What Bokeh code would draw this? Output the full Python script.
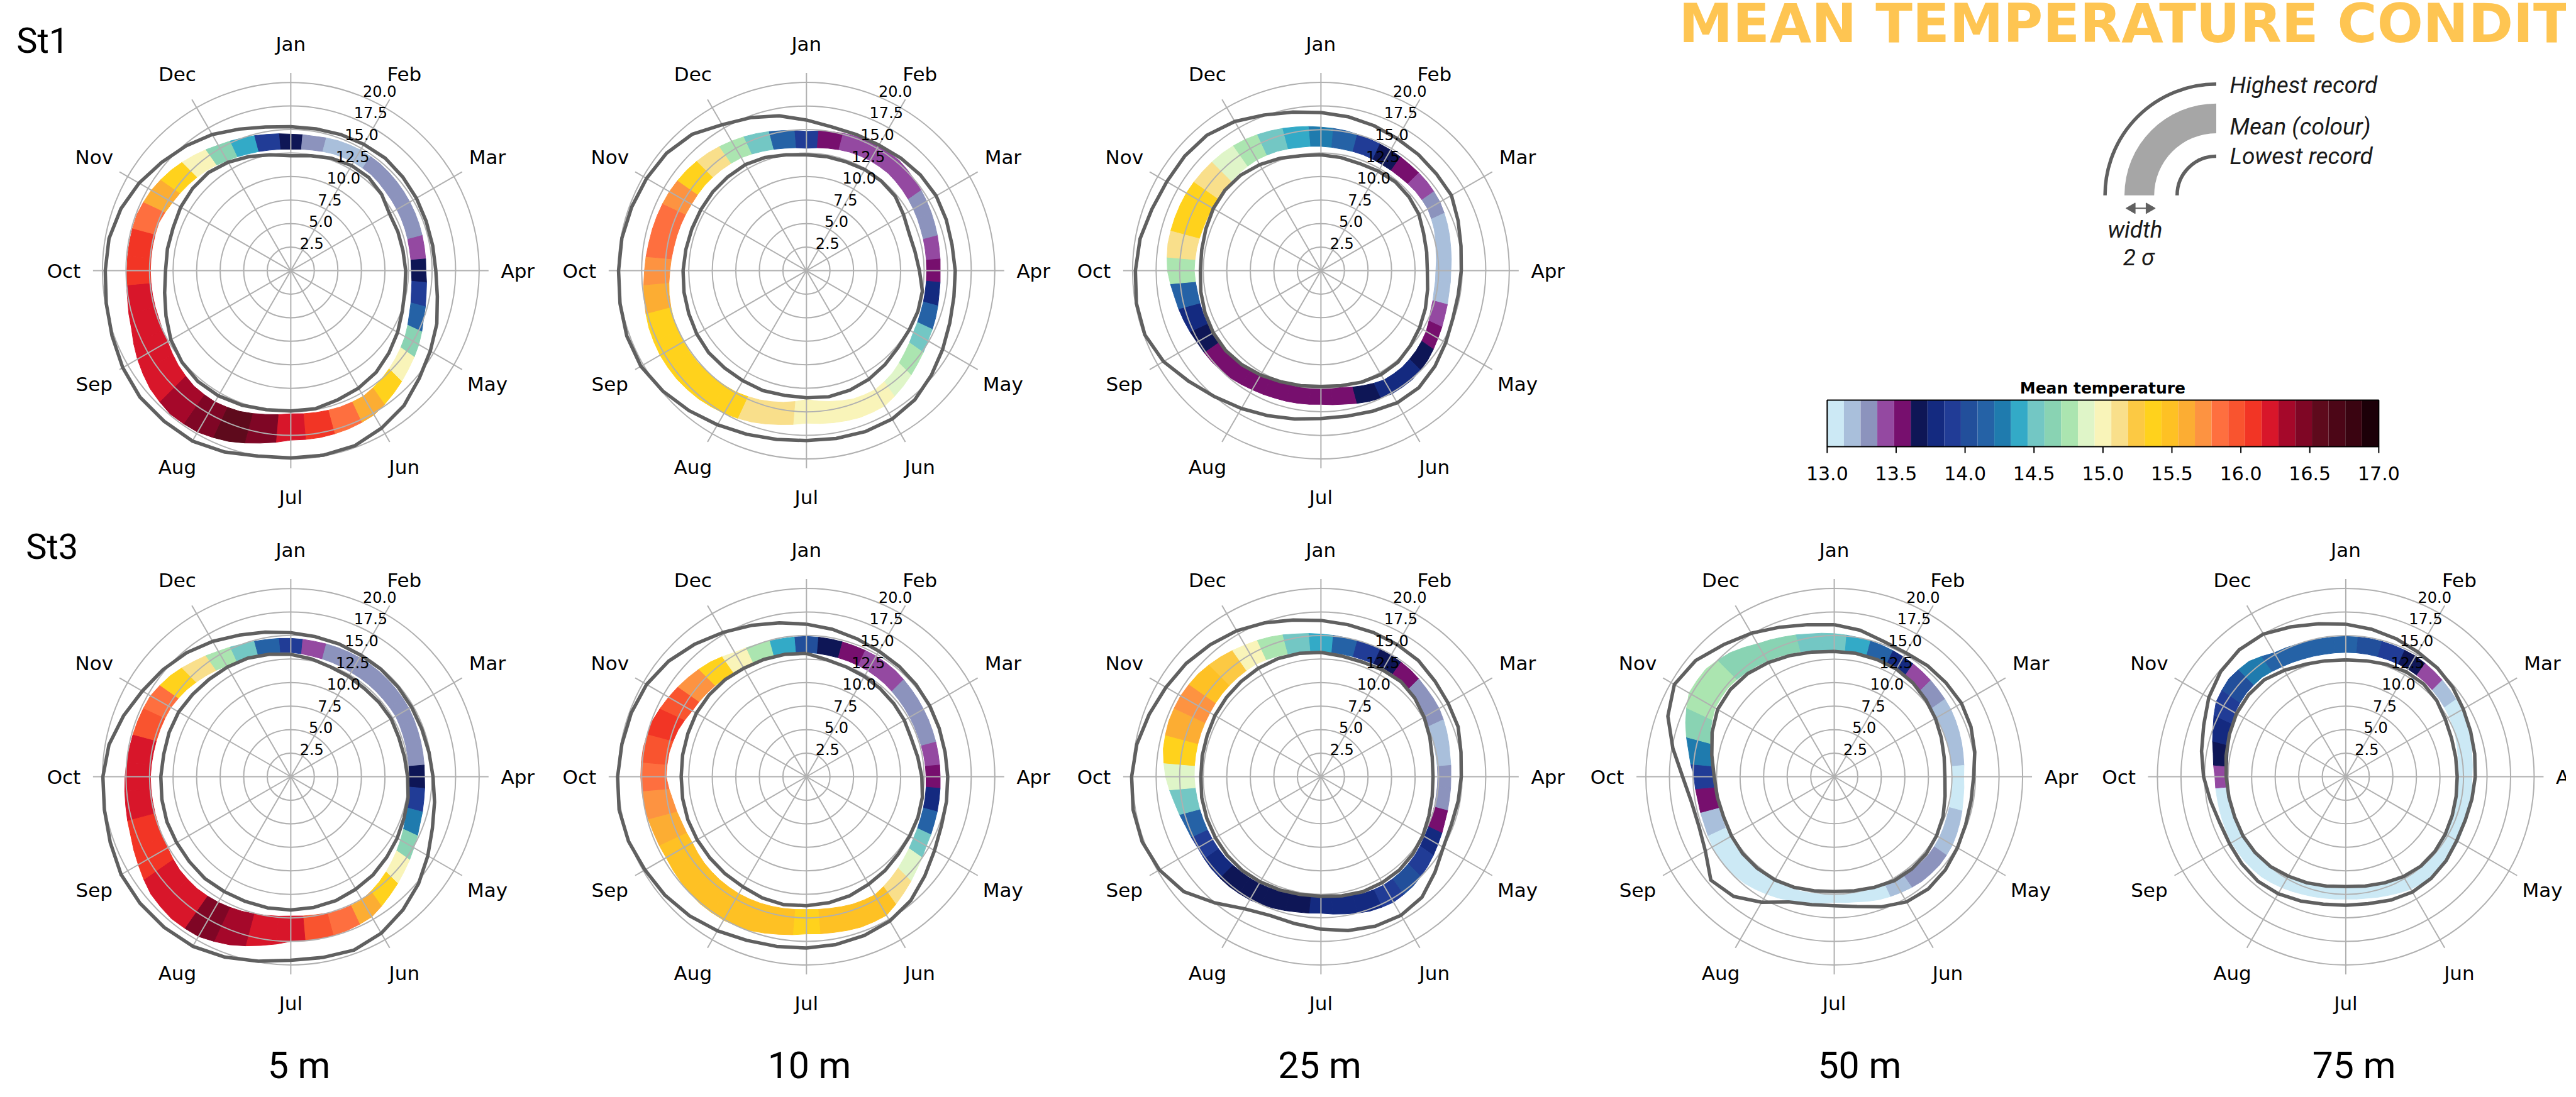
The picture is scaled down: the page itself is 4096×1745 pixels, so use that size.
import math
from bokeh.plotting import figure
from bokeh.models import Range1d
from bokeh.embed import file_html
from bokeh.resources import INLINE
from bokeh.core.properties import value

# ------------------------------------------------------------------ data
THETA_DEG = [0, 10, 20, 30, 40, 50, 60, 70, 80, 90, 100, 110, 120, 130, 140, 150, 160, 170,
             180, 190, 200, 210, 220, 230, 240, 250, 260, 270, 280, 290, 300, 310, 320, 330, 340, 350]
MONTHS = ["Jan", "Feb", "Mar", "Apr", "May", "Jun", "Jul", "Aug", "Sep", "Oct", "Nov", "Dec"]
R_TICKS = [2.5, 5.0, 7.5, 10.0, 12.5, 15.0, 17.5, 20.0]
R_MAX = 21.0
CBAR_TICKS = [13.0, 13.5, 14.0, 14.5, 15.0, 15.5, 16.0, 16.5, 17.0]
T_LOW, T_HIGH = 13.0, 17.0
PALETTE = ["#cce9f5", "#a9bfdb", "#8c93bd", "#9449a1", "#770f6e", "#0e1656", "#142a80",
           "#213c96", "#224f9b", "#2562a6", "#1f7bae", "#33aac7", "#73c7c4", "#89d3b3",
           "#abe5b0", "#dff5c8", "#f9f4b9", "#f9df8b", "#fcc943", "#ffd21c", "#fec124",
           "#fcad33", "#fd9341", "#fe6f3f", "#f9542f", "#f23525", "#d8162a", "#a5082a",
           "#7f0625", "#5e0a1c", "#4c0617", "#3a0411", "#1c0008"]
STATIONS = ["St1", "St3"]
DEPTHS = ["5 m", "10 m", "25 m", "50 m", "75 m"]
LEGEND_TEXT = ["Highest record", "Mean (colour)", "Lowest record"]
TITLE = "MEAN TEMPERATURE CONDITIONS"
CBAR_TITLE = "Mean temperature"

# ---- St1, 5 m
st1_5m_hi = [15.3, 15.3, 15.4, 15.5, 15.6, 15.5, 15.4, 15.3, 15.3, 15.4, 15.8, 16.5,
             17.1, 17.8, 18.7, 19.3, 19.8, 19.9, 19.9, 20.0, 20.5, 20.9, 20.9, 20.9,
             20.6, 20.2, 19.9, 19.7, 19.6, 19.2, 18.6, 17.9, 17.3, 16.7, 16.0, 15.5]
st1_5m_lo = [12.2, 12.4, 12.7, 12.9, 12.9, 12.6, 12.1, 12.1, 12.1, 12.2, 12.3, 12.6,
             13.1, 13.6, 14.1, 14.4, 14.6, 14.9, 14.9, 15.0, 15.2, 15.35, 15.35, 15.1,
             14.7, 14.1, 13.6, 13.3, 13.3, 13.3, 13.5, 13.6, 13.6, 13.3, 12.9, 12.5]
st1_5m_blo = [12.9, 13.0, 13.2, 13.3, 13.3, 13.1, 13.0, 12.9, 12.8, 12.8, 13.0, 13.4,
              14.0, 14.5, 15.0, 15.4, 15.4, 15.3, 15.2, 15.5, 15.9, 16.1, 16.0, 15.6,
              15.1, 14.9, 14.9, 14.9, 14.9, 14.9, 14.5, 14.2, 13.9, 13.5, 13.2, 13.0]
st1_5m_bhi = [14.5, 14.5, 14.7, 14.8, 14.8, 14.7, 14.6, 14.5, 14.4, 14.35, 14.6, 15.0,
              15.7, 16.3, 17.0, 17.7, 17.9, 18.0, 18.0, 18.6, 19.3, 19.8, 19.9, 19.5,
              18.8, 18.0, 17.6, 17.4, 17.4, 17.4, 17.1, 16.6, 16.0, 15.4, 15.0, 14.7]
st1_5m_col = [13.67, 13.30, 13.18, 13.18, 13.30, 13.30, 13.30, 13.30, 13.42, 13.67, 13.91, 14.15,
              14.64, 15.0, 15.36, 15.61, 15.85, 16.09, 16.21, 16.45, 16.58, 16.45, 16.33, 16.21,
              16.21, 16.21, 16.21, 16.09, 16.09, 15.85, 15.61, 15.36, 15.0, 14.64, 14.39, 13.91]

# ---- St1, 10 m
st1_10m_hi = [16.0, 15.5, 15.4, 15.4, 15.6, 15.8, 15.9, 15.8, 15.7, 15.8, 15.9, 16.2,
              16.7, 17.3, 17.9, 18.2, 18.2, 18.1, 18.05, 18.2, 18.5, 18.9, 19.4, 19.9,
              20.3, 20.3, 20.1, 19.95, 19.9, 19.75, 19.6, 19.4, 18.9, 17.9, 17.3, 16.7]
st1_10m_lo = [12.3, 12.3, 12.3, 12.4, 12.4, 12.3, 11.9, 11.6, 11.7, 12.0, 12.5, 12.6,
              12.6, 12.7, 13.0, 13.3, 13.5, 13.6, 13.5, 13.45, 13.55, 13.5, 13.5, 13.55,
              13.45, 13.3, 13.2, 13.1, 13.0, 12.95, 12.95, 13.0, 13.0, 13.0, 12.8, 12.5]
st1_10m_blo = [13.0, 13.2, 13.4, 13.5, 13.5, 13.3, 13.1, 12.9, 12.8, 12.75, 12.8, 12.9,
               13.1, 13.6, 14.2, 14.6, 14.5, 14.1, 13.7, 14.2, 14.6, 14.9, 15.0, 15.1,
               15.1, 15.0, 14.8, 14.5, 14.3, 14.2, 14.1, 14.1, 14.0, 13.85, 13.5, 13.2]
st1_10m_bhi = [14.8, 15.0, 15.2, 15.3, 15.3, 15.0, 14.75, 14.5, 14.3, 14.2, 14.3, 14.6,
               14.9, 15.4, 16.0, 16.6, 16.6, 16.4, 16.2, 16.6, 17.1, 17.5, 17.8, 17.95,
               17.95, 17.8, 17.5, 17.2, 17.0, 16.9, 16.8, 16.6, 16.3, 15.9, 15.5, 15.1]
st1_10m_col = [13.91, 13.55, 13.42, 13.42, 13.42, 13.42, 13.30, 13.30, 13.42, 13.55, 13.79, 14.15,
               14.52, 14.76, 14.88, 15.0, 15.0, 15.0, 15.0, 15.12, 15.12, 15.36, 15.36, 15.36,
               15.36, 15.36, 15.61, 15.73, 15.85, 15.85, 15.73, 15.36, 15.12, 14.76, 14.52, 14.15]

# ---- St1, 25 m
st1_25m_hi = [16.8, 16.6, 16.4, 16.2, 16.1, 16.0, 16.0, 15.5, 15.1, 14.9, 14.8, 14.9,
              15.3, 15.8, 16.2, 16.2, 15.9, 15.7, 15.7, 16.0, 16.4, 16.9, 17.5, 18.3,
              19.3, 19.9, 19.9, 19.7, 19.5, 19.1, 18.9, 18.9, 18.8, 18.3, 17.6, 17.1]
st1_25m_lo = [12.3, 12.2, 12.1, 12.2, 12.3, 12.2, 12.0, 11.6, 11.4, 11.3, 11.5, 11.8,
              12.1, 12.4, 12.7, 12.75, 12.6, 12.4, 12.3, 12.4, 12.55, 12.8, 13.05, 13.2,
              13.2, 13.1, 12.95, 12.8, 12.85, 13.0, 13.2, 13.3, 13.25, 13.0, 12.7, 12.4]
st1_25m_blo = [13.2, 13.1, 13.1, 13.0, 13.0, 13.1, 13.1, 12.8, 12.4, 12.2, 12.2, 12.4,
               12.9, 13.2, 13.4, 13.4, 13.0, 12.6, 12.4, 12.5, 12.6, 12.8, 13.1, 13.3,
               13.3, 13.3, 13.3, 13.45, 13.4, 13.3, 13.3, 13.4, 13.5, 13.6, 13.5, 13.3]
st1_25m_bhi = [15.25, 15.1, 14.9, 14.8, 14.7, 14.7, 14.6, 14.3, 14.0, 13.8, 13.8, 14.0,
               14.35, 14.8, 15.1, 15.1, 14.8, 14.4, 14.2, 14.3, 14.4, 14.6, 14.9, 15.1,
               15.2, 15.5, 15.8, 16.3, 16.5, 16.5, 16.5, 16.4, 16.3, 16.1, 15.8, 15.5]
st1_25m_col = [14.27, 14.15, 13.91, 13.67, 13.55, 13.42, 13.30, 13.18, 13.18, 13.18, 13.18, 13.42,
               13.55, 13.67, 13.79, 13.79, 13.67, 13.55, 13.55, 13.55, 13.55, 13.55, 13.55, 13.55,
               13.67, 13.79, 14.15, 14.76, 15.12, 15.36, 15.36, 15.12, 14.88, 14.76, 14.52, 14.39]

# ---- St3, 5 m
st3_5m_hi = [15.3, 15.1, 15.0, 14.9, 14.9, 14.85, 14.8, 14.8, 14.9, 15.1, 15.5, 16.0,
             16.8, 17.7, 18.5, 19.2, 19.6, 19.5, 19.5, 19.9, 20.4, 20.8, 20.9, 20.9,
             20.8, 20.4, 20.1, 19.95, 19.6, 18.9, 18.2, 17.7, 17.2, 16.6, 16.0, 15.6]
st3_5m_lo = [13.0, 12.7, 12.4, 12.3, 12.2, 12.25, 12.3, 12.2, 12.25, 12.4, 12.65, 12.8,
             13.05, 13.3, 13.6, 13.8, 14.0, 14.1, 14.15, 14.15, 14.1, 14.1, 14.15, 14.05,
             14.0, 14.0, 13.9, 13.8, 13.7, 13.75, 13.75, 13.6, 13.5, 13.45, 13.4, 13.2]
st3_5m_blo = [13.2, 13.0, 12.9, 12.8, 12.8, 12.8, 12.85, 12.7, 12.6, 12.55, 12.7, 12.95,
              13.45, 14.0, 14.6, 15.1, 15.1, 14.9, 14.8, 14.95, 15.2, 15.4, 15.5, 15.4,
              15.1, 14.95, 14.9, 14.9, 14.8, 14.75, 14.7, 14.4, 14.0, 13.6, 13.4, 13.3]
st3_5m_bhi = [14.7, 14.6, 14.6, 14.6, 14.6, 14.55, 14.5, 14.35, 14.25, 14.2, 14.35, 14.6,
              15.1, 15.7, 16.4, 17.2, 17.4, 17.5, 17.5, 18.2, 19.0, 19.6, 19.7, 19.4,
              18.7, 18.1, 17.8, 17.6, 17.4, 17.3, 17.2, 16.7, 16.0, 15.4, 15.0, 14.8]
st3_5m_col = [13.91, 13.42, 13.30, 13.30, 13.30, 13.30, 13.30, 13.30, 13.30, 13.67, 13.91, 14.27,
              14.64, 15.0, 15.36, 15.61, 15.85, 15.97, 16.21, 16.21, 16.33, 16.45, 16.21, 16.21,
              16.09, 16.09, 16.21, 16.21, 16.21, 15.97, 15.85, 15.36, 15.12, 14.76, 14.52, 14.15]

# ---- St3, 10 m
st3_10m_hi = [16.2, 15.9, 15.6, 15.4, 15.3, 15.2, 15.1, 15.0, 14.95, 15.0, 15.1, 15.25,
              15.7, 16.4, 17.2, 17.7, 17.95, 18.1, 18.2, 18.3, 18.5, 18.9, 19.3, 19.6,
              19.8, 20.1, 20.2, 20.05, 19.9, 19.8, 19.6, 19.1, 18.4, 17.7, 17.1, 16.6]
st3_10m_lo = [13.1, 12.6, 12.4, 12.3, 12.2, 12.1, 12.0, 11.85, 12.0, 12.25, 12.5, 12.6,
              12.65, 12.75, 13.0, 13.2, 13.45, 13.6, 13.7, 13.8, 13.7, 13.5, 13.45, 13.4,
              13.4, 13.4, 13.35, 13.3, 13.35, 13.4, 13.5, 13.5, 13.45, 13.3, 13.25, 13.2]
st3_10m_blo = [13.2, 13.1, 13.05, 13.0, 12.9, 12.75, 12.65, 12.6, 12.65, 12.7, 12.8, 12.9,
               13.1, 13.5, 14.0, 14.5, 14.4, 14.2, 14.1, 14.2, 14.3, 14.35, 14.3, 14.2,
               14.0, 14.1, 14.4, 14.9, 14.8, 14.5, 14.0, 13.8, 13.6, 13.45, 13.35, 13.25]
st3_10m_bhi = [14.9, 14.85, 14.8, 14.8, 14.7, 14.5, 14.35, 14.25, 14.2, 14.2, 14.3, 14.45,
               14.7, 15.3, 16.1, 17.0, 17.0, 16.8, 16.7, 17.0, 17.4, 17.6, 17.6, 17.4,
               17.2, 17.3, 17.5, 17.6, 17.6, 17.4, 16.9, 16.4, 15.9, 15.25, 15.0, 14.9]
st3_10m_col = [14.03, 13.67, 13.55, 13.42, 13.42, 13.30, 13.30, 13.30, 13.42, 13.55, 13.79, 14.15,
               14.52, 14.88, 15.12, 15.48, 15.48, 15.48, 15.36, 15.48, 15.48, 15.48, 15.48, 15.48,
               15.48, 15.61, 15.73, 15.85, 15.97, 16.09, 15.97, 15.73, 15.36, 15.0, 14.76, 14.39]

# ---- St3, 25 m
st3_25m_hi = [16.6, 16.4, 16.3, 16.2, 16.1, 15.8, 15.6, 15.5, 15.1, 14.9, 14.8, 14.75,
              15.0, 15.8, 16.7, 17.0, 16.9, 16.6, 16.2, 15.85, 15.7, 16.2, 17.5, 19.0,
              19.8, 20.2, 20.25, 20.1, 19.85, 19.4, 19.0, 18.7, 18.3, 17.9, 17.4, 16.9]
st3_25m_lo = [13.2, 13.0, 12.95, 13.1, 13.2, 13.0, 12.65, 12.3, 12.0, 11.9, 12.0, 12.2,
              12.5, 12.75, 12.95, 13.0, 13.0, 12.85, 12.7, 12.7, 12.8, 12.9, 13.0, 13.0,
              12.95, 12.9, 12.85, 12.75, 12.8, 12.85, 13.0, 13.1, 13.2, 13.3, 13.35, 13.3]
st3_25m_blo = [13.25, 13.2, 13.2, 13.3, 13.3, 13.0, 12.7, 12.5, 12.4, 12.4, 12.4, 12.5,
               12.7, 13.0, 13.2, 13.3, 13.2, 12.9, 12.75, 12.8, 12.95, 13.1, 13.2, 13.3,
               13.3, 13.3, 13.35, 13.45, 13.5, 13.55, 13.6, 13.7, 13.75, 13.8, 13.6, 13.4]
st3_25m_bhi = [15.15, 15.0, 14.95, 14.9, 14.8, 14.6, 14.5, 14.2, 13.9, 13.8, 13.85, 14.0,
               14.35, 14.8, 15.2, 15.4, 15.2, 14.8, 14.5, 14.6, 14.85, 15.1, 15.2, 15.2,
               15.1, 15.3, 15.8, 16.5, 17.0, 17.2, 17.2, 17.0, 16.6, 16.15, 15.8, 15.4]
st3_25m_col = [14.39, 14.15, 13.91, 13.67, 13.55, 13.30, 13.30, 13.18, 13.18, 13.30, 13.30, 13.55,
               13.79, 13.91, 14.03, 13.91, 13.79, 13.79, 13.79, 13.67, 13.67, 13.67, 13.67, 13.79,
               13.91, 14.15, 14.52, 14.88, 15.36, 15.61, 15.73, 15.48, 15.24, 15.0, 14.76, 14.52]

# ---- St3, 50 m
st3_50m_hi = [16.15, 15.8, 15.3, 15.2, 15.4, 15.5, 15.6, 15.45, 15.15, 14.8, 14.75, 14.85,
              15.1, 15.4, 15.55, 15.35, 14.7, 14.0, 13.7, 13.8, 14.15, 15.4, 16.6, 17.1,
              15.8, 15.3, 15.4, 16.1, 17.4, 18.8, 19.6, 19.2, 18.3, 17.6, 16.9, 16.4]
st3_50m_lo = [13.3, 13.3, 13.25, 13.2, 13.0, 12.7, 12.4, 12.1, 11.85, 11.75, 11.95, 12.3,
              12.55, 12.75, 12.8, 12.75, 12.5, 12.3, 12.2, 12.3, 12.5, 12.65, 12.7, 12.7,
              12.6, 12.5, 12.6, 12.75, 13.2, 13.8, 14.3, 14.4, 14.3, 14.0, 13.7, 13.45]
st3_50m_blo = [13.4, 13.3, 13.2, 13.05, 12.9, 12.75, 12.6, 12.5, 12.5, 12.55, 12.6, 12.7,
               12.9, 13.0, 12.9, 12.7, 12.6, 12.5, 12.5, 12.6, 12.7, 12.8, 12.85, 12.85,
               12.8, 12.7, 12.7, 12.75, 13.3, 14.0, 14.6, 14.7, 14.5, 14.2, 13.9, 13.6]
st3_50m_bhi = [15.2, 15.0, 14.85, 14.7, 14.55, 14.4, 14.3, 14.1, 13.9, 13.75, 13.9, 14.2,
               14.5, 14.6, 14.5, 14.2, 13.9, 13.5, 13.35, 13.6, 14.0, 14.4, 14.8, 15.0,
               14.9, 14.7, 14.7, 14.9, 15.7, 16.8, 17.8, 17.8, 17.2, 16.3, 15.8, 15.4]
st3_50m_col = [14.52, 14.39, 14.15, 13.79, 13.42, 13.30, 13.18, 13.18, 13.18, 13.06, 13.06, 13.18,
               13.18, 13.30, 13.30, 13.18, 13.06, 13.06, 13.06, 13.06, 13.06, 13.06, 13.06, 13.06,
               13.06, 13.18, 13.55, 13.91, 14.27, 14.64, 14.76, 14.76, 14.64, 14.64, 14.64, 14.52]

# ---- St3, 75 m
st3_75m_hi = [16.2, 15.9, 15.6, 15.3, 15.1, 14.8, 14.4, 14.1, 13.9, 13.75, 13.6, 13.5,
              13.6, 13.9, 14.1, 14.15, 13.95, 13.7, 13.65, 13.75, 14.05, 14.35, 14.5, 14.4,
              14.25, 14.25, 14.6, 15.1, 15.55, 16.05, 16.8, 17.35, 17.6, 17.5, 16.95, 16.5]
st3_75m_lo = [12.4, 12.5, 12.7, 12.85, 12.85, 12.6, 12.2, 11.95, 11.85, 11.83, 11.9, 12.03,
              12.2, 12.35, 12.4, 12.25, 12.0, 11.8, 11.66, 11.8, 12.0, 12.2, 12.45, 12.55,
              12.6, 12.55, 12.6, 12.7, 12.9, 13.15, 13.4, 13.5, 13.45, 13.05, 12.7, 12.5]
st3_75m_blo = [13.2, 13.2, 13.2, 13.2, 13.1, 12.9, 12.7, 12.4, 12.1, 12.0, 12.0, 12.1,
               12.3, 12.5, 12.55, 12.4, 12.1, 11.9, 11.85, 11.95, 12.1, 12.3, 12.5, 12.6,
               12.6, 12.6, 12.55, 12.5, 12.7, 13.1, 13.6, 13.8, 13.8, 13.5, 13.3, 13.2]
st3_75m_bhi = [14.9, 14.9, 14.85, 14.8, 14.6, 14.4, 14.2, 13.9, 13.6, 13.4, 13.4, 13.5,
               13.8, 13.9, 13.95, 13.8, 13.4, 13.1, 13.0, 13.1, 13.3, 13.6, 13.9, 14.0,
               14.0, 13.9, 13.85, 13.9, 14.3, 15.0, 15.9, 16.2, 16.0, 15.2, 15.0, 14.9]
st3_75m_col = [14.15, 14.03, 13.91, 13.67, 13.42, 13.18, 13.06, 13.06, 13.06, 13.06, 13.06, 13.06,
               13.06, 13.06, 13.06, 13.06, 13.06, 13.06, 13.06, 13.06, 13.06, 13.06, 13.06, 13.06,
               13.06, 13.06, 13.06, 13.42, 13.67, 13.79, 13.91, 14.03, 14.27, 14.15, 14.15, 14.15]

PANELS = [
    (0, 0, st1_5m_hi, st1_5m_lo, st1_5m_blo, st1_5m_bhi, st1_5m_col),
    (0, 1, st1_10m_hi, st1_10m_lo, st1_10m_blo, st1_10m_bhi, st1_10m_col),
    (0, 2, st1_25m_hi, st1_25m_lo, st1_25m_blo, st1_25m_bhi, st1_25m_col),
    (1, 0, st3_5m_hi, st3_5m_lo, st3_5m_blo, st3_5m_bhi, st3_5m_col),
    (1, 1, st3_10m_hi, st3_10m_lo, st3_10m_blo, st3_10m_bhi, st3_10m_col),
    (1, 2, st3_25m_hi, st3_25m_lo, st3_25m_blo, st3_25m_bhi, st3_25m_col),
    (1, 3, st3_50m_hi, st3_50m_lo, st3_50m_blo, st3_50m_bhi, st3_50m_col),
    (1, 4, st3_75m_hi, st3_75m_lo, st3_75m_blo, st3_75m_bhi, st3_75m_col),
]
for _pn in PANELS:
    for _arr in _pn[2:]:
        if len(_arr) != len(THETA_DEG):
            raise ValueError("bad length %d in panel %s" % (len(_arr), _pn[:2]))

# ------------------------------------------------------------------ layout
S = 0.936          # scale of the reference
PAD = 8            # page margin
W, H = 4080, 1729  # canvas size in px
K = 16.0 * S       # px per degree C on the radial axis


def U(X):
    return (S * X - PAD) / K


def V(Y):
    return (H - (S * Y - PAD)) / K


XMAX = W / K
COL_X = [502, 1378, 2252, 3124, 3993]
ROW_Y = [468, 1328]
DEPTH_X = [516, 1383, 2250, 3167, 4007]
LABEL_R = 24.1
GRID_C = "#b0b0b0"
REC_C = "#606060"


def tcolor(t):
    i = int(math.floor((t - T_LOW) / (T_HIGH - T_LOW) * len(PALETTE)))
    return PALETTE[max(0, min(len(PALETTE) - 1, i))]


def polar(cx, cy, r, deg):
    a = math.radians(deg)
    return cx + r * math.sin(a), cy + r * math.cos(a)


p = figure(width=W, height=H, x_range=Range1d(0, W / K), y_range=Range1d(0, H / K),
           toolbar_location=None, output_backend="svg", min_border=0,
           x_axis_type=None, y_axis_type=None)
p.grid.visible = False
p.outline_line_color = None
p.background_fill_color = "white"
p.border_fill_color = "white"

n = len(THETA_DEG)
step = THETA_DEG[1] - THETA_DEG[0]
mx, my, mt, moff = [], [], [], []
rx, ry, rt = [], [], []

for row, col, hi, lo, blo, bhi, tc in PANELS:
    cx, cy = U(COL_X[col]), V(ROW_Y[row])
    # mean +/- sigma band: one polar bar per sample, edges joined to neighbours
    bxs, bys, bcs = [], [], []
    for i in range(n):
        ip, inx = (i - 1) % n, (i + 1) % n
        t = THETA_DEG[i]
        angs = [t - step / 2, t, t + step / 2]
        ro = [(bhi[ip] + bhi[i]) / 2, bhi[i], (bhi[i] + bhi[inx]) / 2]
        ri = [(blo[ip] + blo[i]) / 2, blo[i], (blo[i] + blo[inx]) / 2]
        pts = [polar(cx, cy, r, a) for a, r in zip(angs, ro)] + \
              [polar(cx, cy, r, a) for a, r in zip(angs[::-1], ri[::-1])]
        bxs.append([q[0] for q in pts])
        bys.append([q[1] for q in pts])
        bcs.append(tcolor(tc[i]))
    p.patches(xs=bxs, ys=bys, fill_color=bcs, line_color=bcs, line_width=1)
    # grid
    p.circle(x=[cx] * len(R_TICKS), y=[cy] * len(R_TICKS), radius=R_TICKS,
             fill_color=None, line_color=GRID_C, line_width=2)
    ends = [polar(cx, cy, R_MAX, 30 * m) for m in range(12)]
    p.segment(x0=[cx] * 12, y0=[cy] * 12, x1=[e[0] for e in ends], y1=[e[1] for e in ends],
              line_color=GRID_C, line_width=2)
    # records
    for rec in (hi, lo):
        pts = [polar(cx, cy, r, t) for r, t in zip(rec, THETA_DEG)]
        xs = [q[0] for q in pts]
        ys = [q[1] for q in pts]
        p.line(xs + xs[:1], ys + ys[:1], line_color=REC_C, line_width=5.5, line_join="round")
    # month labels
    for m, name in enumerate(MONTHS):
        x, y = polar(cx, cy, LABEL_R, 30 * m)
        xa = min(x, XMAX - 0.3)
        mx.append(xa)
        my.append(y)
        mt.append(name)
        moff.append((x - xa) * K)
    # radial tick labels
    for r in R_TICKS:
        x, y = polar(cx, cy, r, 22.5)
        rx.append(x)
        ry.append(y)
        rt.append("%.1f" % r)

p.text(x=rx, y=ry, text=rt, text_align="left", text_baseline="bottom",
       text_font=value("DejaVu Sans"), text_font_size="24px", text_color="black")
p.text(x=mx, y=my, text=mt, x_offset=moff, text_align="center", text_baseline="middle",
       text_font=value("DejaVu Sans"), text_font_size="31px", text_color="black")

# station and depth labels
p.text(x=[U(36), U(52)], y=[V(77), V(937)], text=STATIONS, text_align="left",
       text_baseline="middle", text_font=value("Roboto"), text_font_size="56px",
       text_color="black")
p.text(x=[U(x) for x in DEPTH_X], y=[(H - 1728.5) / K] * len(DEPTHS), text=DEPTHS,
       text_align="center", text_baseline="bottom", text_font=value("Roboto"),
       text_font_size="59px", text_color="black")

# title
p.text(x=[U(2860)], y=[V(48)], text=[TITLE], text_align="left", text_baseline="middle",
       text_font=value("DejaVu Sans"), text_font_style="bold", text_font_size="86px",
       text_color="#fec552")

# legend sketch
lcx, lcy = U(3773), V(340)
p.annular_wedge(x=[lcx], y=[lcy], inner_radius=105.5 / 16, outer_radius=156 / 16,
                start_angle=math.pi / 2, end_angle=math.pi, direction="anticlock",
                fill_color="#a6a6a6", line_color=None)
p.arc(x=[lcx, lcx], y=[lcy, lcy], radius=[189 / 16, 66.5 / 16], start_angle=math.pi / 2,
      end_angle=math.pi, direction="anticlock", line_color=REC_C, line_width=5.5)
p.segment(x0=[U(3622)], y0=[V(362)], x1=[U(3667)], y1=[V(362)], line_color=REC_C,
          line_width=2)
p.scatter(x=[U(3630), U(3659)], y=[V(362), V(362)], marker="triangle", size=17,
          angle=[math.pi / 2, -math.pi / 2], fill_color=REC_C, line_color=REC_C)
p.text(x=[U(3796)] * 3, y=[V(153), V(223), V(274)], text=LEGEND_TEXT, text_align="left",
       text_baseline="middle", text_font=value("Roboto"), text_font_style="italic",
       text_font_size="37px", text_color="#1a1a1a")
p.text(x=[U(3635), U(3641)], y=[V(398), V(445)], text=["width", "2 \u03c3"],
       text_align="center", text_baseline="middle", text_font=value("Roboto"),
       text_font_style="italic", text_font_size="37px", text_color="#1a1a1a")

# colour bar
CB_X0, CB_X1, CB_TOP, CB_BOT = 3112, 4049, 688, 767


def cb_x(t):
    return U(CB_X0 + (t - T_LOW) / (T_HIGH - T_LOW) * (CB_X1 - CB_X0))


nb = len(PALETTE)
edges = [T_LOW + i * (T_HIGH - T_LOW) / nb for i in range(nb + 1)]
p.quad(left=[cb_x(e) for e in edges[:-1]], right=[cb_x(e) for e in edges[1:]],
       top=[V(CB_TOP)] * nb, bottom=[V(CB_BOT)] * nb, fill_color=PALETTE, line_color=None)
p.quad(left=[cb_x(T_LOW)], right=[cb_x(T_HIGH)], top=[V(CB_TOP)], bottom=[V(CB_BOT)],
       fill_color=None, line_color="black", line_width=2)
p.segment(x0=[cb_x(t) for t in CBAR_TICKS], y0=[V(CB_BOT)] * len(CBAR_TICKS),
          x1=[cb_x(t) for t in CBAR_TICKS], y1=[V(CB_BOT + 11)] * len(CBAR_TICKS),
          line_color="black", line_width=2)
p.text(x=[cb_x(t) for t in CBAR_TICKS], y=[V(813)] * len(CBAR_TICKS),
       text=["%.1f" % t for t in CBAR_TICKS], text_align="center", text_baseline="middle",
       text_font=value("DejaVu Sans"), text_font_size="30px", text_color="black")
p.text(x=[U(3580)], y=[V(668)], text=[CBAR_TITLE], text_align="center",
       text_baseline="alphabetic", text_font=value("DejaVu Sans"), text_font_style="bold",
       text_font_size="25px", text_color="black")

open("out.html", "w").write(file_html(p, INLINE))
